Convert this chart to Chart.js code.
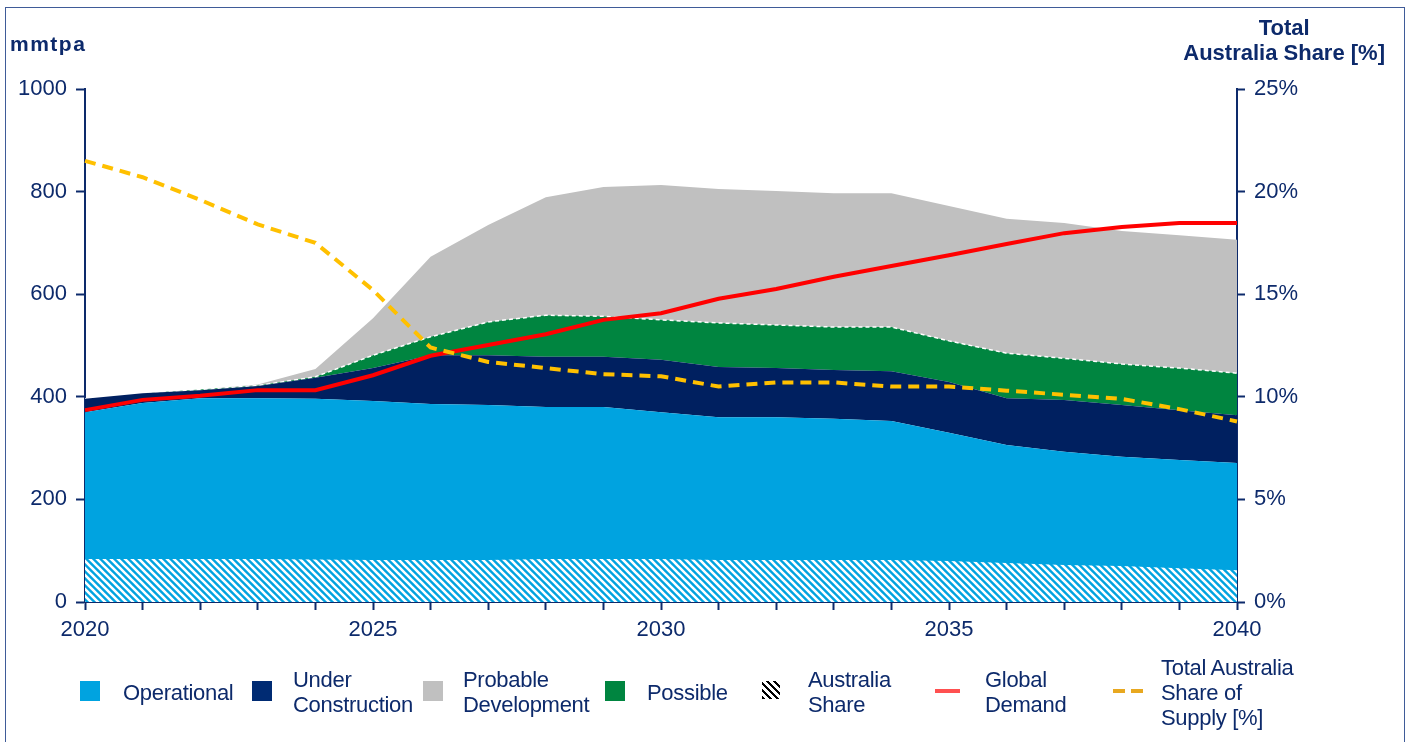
<!DOCTYPE html>
<html>
<head>
<meta charset="utf-8">
<script src="https://cdn.jsdelivr.net/npm/chart.js@4.4.1/dist/chart.umd.min.js"></script>
<style>
  body { margin: 0; background: #fff; font-family: "Liberation Sans", Arial, sans-serif; color: #0d2a6b; }
  #wrap { position: relative; width: 1409px; height: 742px; overflow: hidden; }
  #frame { position: absolute; left: 5px; top: 7px; width: 1398px; height: 800px; border: 1px solid #3f5b98; }
  canvas { position: absolute; left: 0; top: 0; }
  .ttl { position: absolute; font-weight: bold; font-size: 22px; color: #0d2a6b; white-space: nowrap; }
  .lg { position: absolute; font-size: 22px; line-height: 25px; color: #0d2a6b; white-space: nowrap; letter-spacing: -0.3px; }
  .sw { position: absolute; width: 20px; height: 20px; }
</style>
</head>
<body>
<div id="wrap">
  <div id="frame"></div>
  <canvas id="supplyChart" width="1409" height="742"></canvas>
  <div class="ttl" style="left:10px; top:32px; font-size:21px; letter-spacing:1.5px;">mmtpa</div>
  <div class="ttl" style="right:24px; top:15px; text-align:center; line-height:25px;">Total<br>Australia Share [%]</div>

  <div class="sw" style="left:80px; top:681px; background:#00a3e0;"></div>
  <div class="lg" style="left:123px; top:680px;">Operational</div>
  <div class="sw" style="left:252px; top:681px; background:#002b73;"></div>
  <div class="lg" style="left:293px; top:667px;">Under<br>Construction</div>
  <div class="sw" style="left:423px; top:681px; background:#c0c0c0;"></div>
  <div class="lg" style="left:463px; top:667px;">Probable<br>Development</div>
  <div class="sw" style="left:605px; top:681px; background:#008540;"></div>
  <div class="lg" style="left:647px; top:680px;">Possible</div>
  <div class="sw" style="left:762px; top:681px; width:18px; height:18px; background:repeating-linear-gradient(45deg, #000 0 2.5px, #fff 2.5px 5px);"></div>
  <div class="lg" style="left:808px; top:667px;">Australia<br>Share</div>
  <div class="sw" style="left:935px; top:689px; width:25px; height:4px; background:#ff5050;"></div>
  <div class="lg" style="left:985px; top:667px;">Global<br>Demand</div>
  <div class="sw" style="left:1113px; top:689px; width:12px; height:4px; background:#e8a820;"></div>
  <div class="sw" style="left:1131px; top:689px; width:12px; height:4px; background:#e8a820;"></div>
  <div class="lg" style="left:1161px; top:655px;">Total Australia<br>Share of<br>Supply [%]</div>
</div>
<script>
var years = ['2020','2021','2022','2023','2024','2025','2026','2027','2028','2029','2030',
             '2031','2032','2033','2034','2035','2036','2037','2038','2039','2040'];
var operational = [370,388,397,397,396,392,386,384,380,380,370,360,360,357,353,330,306,293,283,277,271];
var underConstruction = [26,19,16,24,41,64,95,97,98,98,102,98,96,95,97,99,91,101,101,97,93];
var possible = [0,0,1,1,2,25,36,65,81,79,78,86,84,84,86,80,88,81,80,82,82];
var probable = [0,0,0,2,15,72,156,189,230,252,263,261,261,261,261,263,262,264,259,259,260];
var australiaShare = [84,84,84,84,83,82,82,82,84,84,84,82,82,82,82,80,76,72,70,66,62];
var globalDemand = [374,394,402,413,413,442,480,501,522,550,563,591,610,634,655,676,698,719,731,739,739];
var shareOfSupply = [21.5,20.7,19.6,18.4,17.5,15.2,12.4,11.7,11.4,11.1,11.0,10.5,10.7,10.7,10.5,10.5,10.3,10.1,9.9,9.4,8.8];
var leftTicks = [0, 200, 400, 600, 800, 1000];
var rightTicks = [0, 5, 10, 15, 20, 25];

var navy = '#0d2a6b';
var tickFont = { family: 'Liberation Sans', size: 22 };

// white diagonal hatch over the operational blue
var pc = document.createElement('canvas');
pc.width = 7; pc.height = 7;
var p = pc.getContext('2d');
p.fillStyle = '#00a3e0';
p.fillRect(0, 0, 7, 7);
p.strokeStyle = '#ffffff';
p.lineWidth = 2.6;
p.beginPath();
p.moveTo(-2, -2); p.lineTo(9, 9);
p.moveTo(-9, -2); p.lineTo(2, 9);
p.moveTo(5, -2); p.lineTo(16, 9);
p.stroke();
var ctx = document.getElementById('supplyChart');
var hatch = ctx.getContext('2d').createPattern(pc, 'repeat');

new Chart(ctx, {
  type: 'line',
  data: {
    labels: years,
    datasets: [{
      label: 'Total Australia Share of Supply [%]',
      data: shareOfSupply,
      yAxisID: 'y2',
      stack: 's',
      borderColor: '#ffc000',
      borderWidth: 4,
      borderDash: [11, 7],
      fill: false,
      pointRadius: 0
    }, {
      label: 'Global Demand',
      data: globalDemand,
      stack: 'd',
      borderColor: '#ff0000',
      borderWidth: 4,
      fill: false,
      pointRadius: 0
    }, {
      label: 'Australia Share',
      data: australiaShare,
      stack: 'h',
      backgroundColor: hatch,
      borderWidth: 0,
      fill: 'origin',
      pointRadius: 0
    }, {
      label: 'Operational',
      data: operational,
      stack: 'supply',
      backgroundColor: '#00a3e0',
      borderWidth: 0,
      fill: 'origin',
      pointRadius: 0
    }, {
      label: 'Under Construction',
      data: underConstruction,
      stack: 'supply',
      backgroundColor: '#002060',
      borderWidth: 0,
      fill: 'stack',
      pointRadius: 0
    }, {
      label: 'Possible',
      data: possible,
      stack: 'supply',
      backgroundColor: '#008540',
      borderColor: '#ffffff',
      borderWidth: 1.5,
      borderDash: [4, 3],
      fill: 'stack',
      pointRadius: 0
    }, {
      label: 'Probable Development',
      data: probable,
      stack: 'supply',
      backgroundColor: '#c0c0c0',
      borderWidth: 0,
      fill: 'stack',
      pointRadius: 0
    }]
  },
  options: {
    responsive: false,
    animation: false,
    elements: { line: { tension: 0 } },
    layout: { padding: { top: 89, bottom: 90, left: 0, right: 0 } },
    scales: {
      x: {
        offset: false,
        border: { color: navy, width: 2 },
        grid: { drawOnChartArea: false, drawTicks: true, tickLength: 8, color: navy, tickWidth: 2 },
        ticks: {
          autoSkip: false, maxRotation: 0, padding: 7, color: navy, font: tickFont,
          callback: function(v, i) { return (+years[i]) % 5 === 0 ? years[i] : ''; }
        },
        afterFit: function(s) { s.height = 50; }
      },
      y: {
        stacked: true,
        min: 0, max: 1000,
        afterBuildTicks: function(s) { s.ticks = leftTicks.map(function(v) { return { value: v }; }); },
        border: { color: navy, width: 2 },
        grid: { drawOnChartArea: false, tickLength: 9, color: navy, tickWidth: 2 },
        ticks: { padding: 9, color: navy, font: tickFont, callback: function(v) { return String(v); } },
        afterFit: function(s) { s.width = 85; }
      },
      y2: {
        position: 'right',
        min: 0, max: 25,
        afterBuildTicks: function(s) { s.ticks = rightTicks.map(function(v) { return { value: v }; }); },
        border: { color: navy, width: 2 },
        grid: { drawOnChartArea: false, tickLength: 8, color: navy, tickWidth: 2 },
        ticks: { padding: 9, color: navy, font: tickFont, callback: function(v) { return v + '%'; } },
        afterFit: function(s) { s.width = 172; }
      }
    },
    plugins: {
      legend: { display: false },
      tooltip: { enabled: false }
    }
  }
});
</script>
</body>
</html>
